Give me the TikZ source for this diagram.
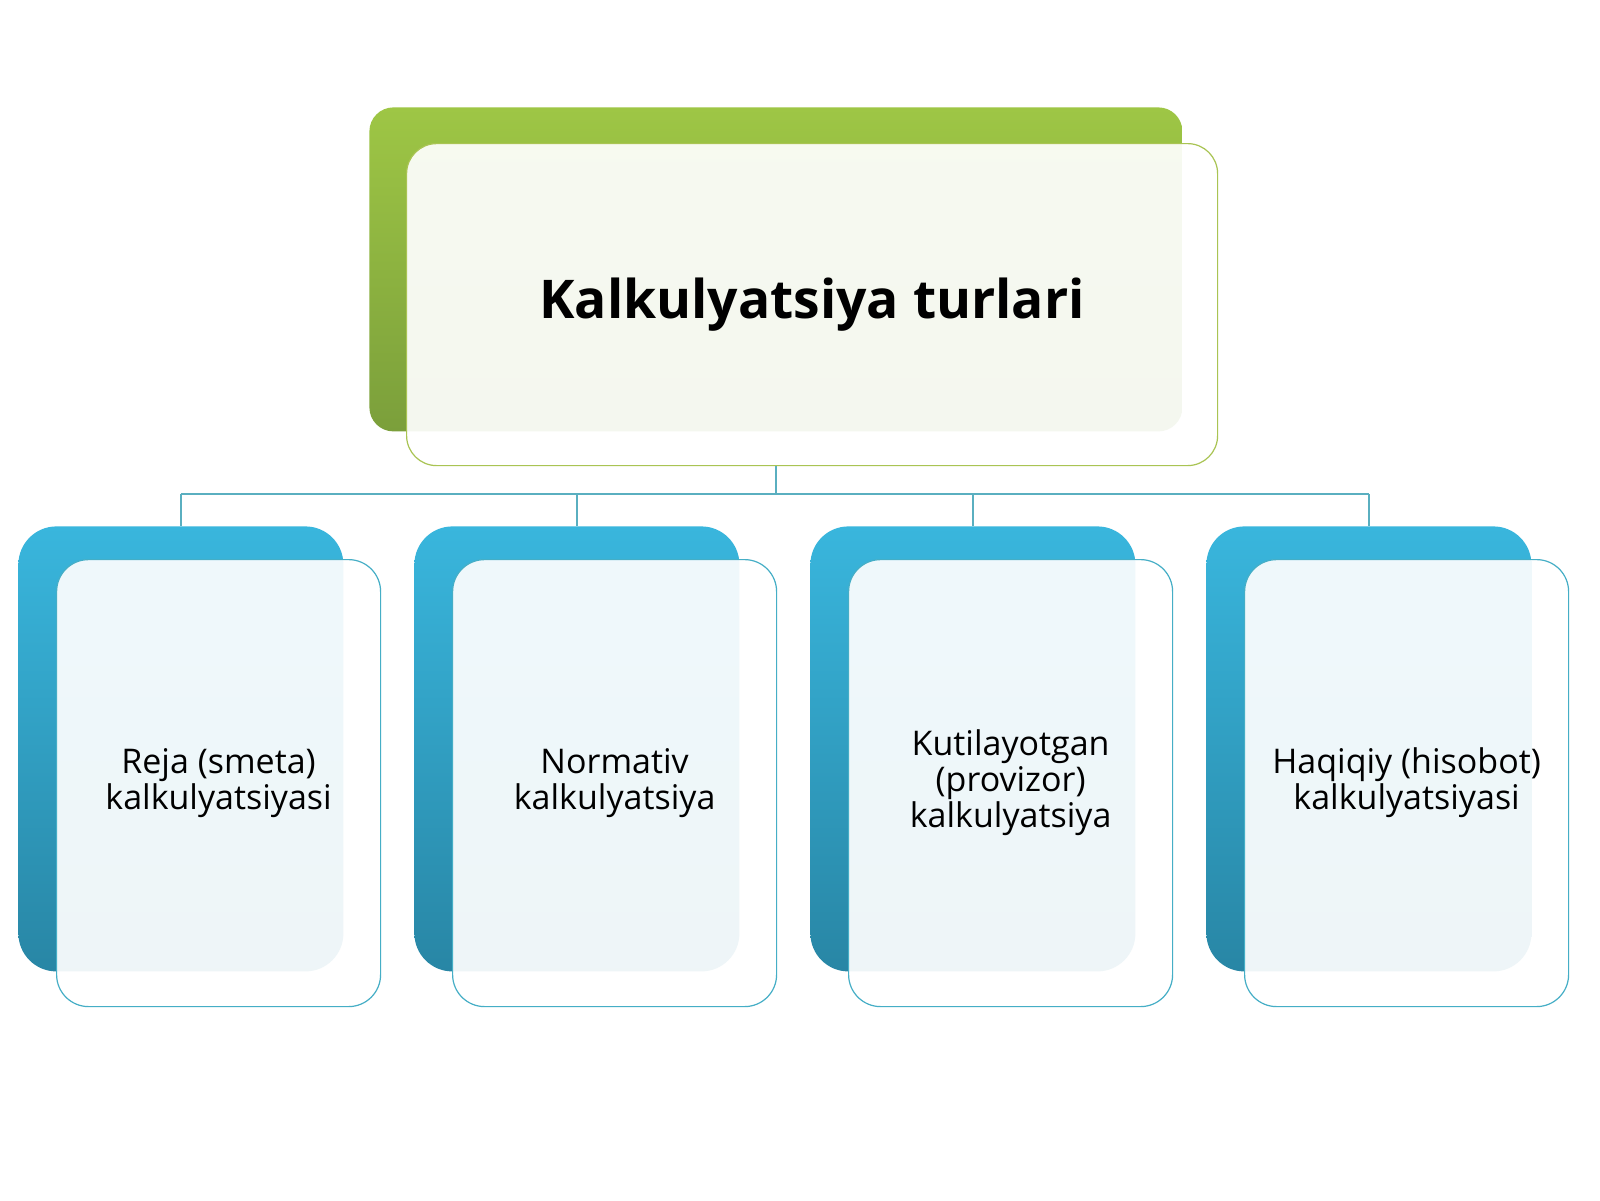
\documentclass[tikz,border=0pt]{standalone}
\usepackage{fontspec}
\setmainfont{Open Sans}
\usetikzlibrary{positioning}

\definecolor{leafgreen}{HTML}{9EC645}
\definecolor{leafgreendark}{HTML}{7B9F3B}
\definecolor{greenrim}{HTML}{A9C453}
\definecolor{skyblue}{HTML}{39B6DD}
\definecolor{skybluedark}{HTML}{2886A5}
\definecolor{bluerim}{HTML}{45AEC6}
\definecolor{linkteal}{HTML}{5AAFC0}

\tikzset{
  card/.style={inner sep=0pt, anchor=north west},
  greenback/.style={card, rounded corners=12pt, top color=leafgreen, bottom color=leafgreendark,
    minimum width=406.5pt, minimum height=162pt},
  greenfront/.style={card, rounded corners=15pt, draw=greenrim, line width=0.6pt,
    fill=white, fill opacity=0.92, text opacity=1,
    minimum width=405.5pt, minimum height=161pt, font=\fontsize{26.7}{30}\selectfont\bfseries},
  blueback/.style={card, rounded corners=19pt, top color=skyblue, bottom color=skybluedark,
    minimum width=162.5pt, minimum height=222.5pt},
  bluefront/.style={card, rounded corners=16pt, draw=bluerim, line width=0.6pt,
    fill=white, fill opacity=0.92, text opacity=1, align=center,
    minimum width=162pt, minimum height=223.5pt, font=\fontsize{17}{18}\selectfont},
  link/.style={draw=linkteal, line width=0.8pt}
}

\begin{document}
\begin{tikzpicture}[x=0.5pt, y=-0.5pt]
\fill[white] (0,0) rectangle (1600,1200);
\useasboundingbox (0,0) rectangle (1600,1200);

% top card
\node[greenback] (topback) at (369,107) {};
\node[greenfront] (top) at (406,143) {Kalkulyatsiya turlari};

% four kinds
\foreach \i/\txt in {0/{Reja (smeta)\\kalkulyatsiyasi},
                     1/{Normativ\\kalkulyatsiya},
                     2/{Kutilayotgan\\(provizor)\\kalkulyatsiya},
                     3/{Haqiqiy (hisobot)\\kalkulyatsiyasi}} {
  \node[blueback] (back\i) at ({18+396*\i},526) {};
  \node[bluefront] (kind\i) at ({56+396*\i},559) {\txt};
}

% connectors
\coordinate (bus) at (776,494);
\draw[link] (topback.south |- top.south) -- (topback.south |- bus);
\draw[link] (back0.north |- bus) -- (back3.north |- bus);
\foreach \i in {0,...,3}
    \draw[link] (back\i.north |- bus) -- (back\i.north);
\end{tikzpicture}
\end{document}
